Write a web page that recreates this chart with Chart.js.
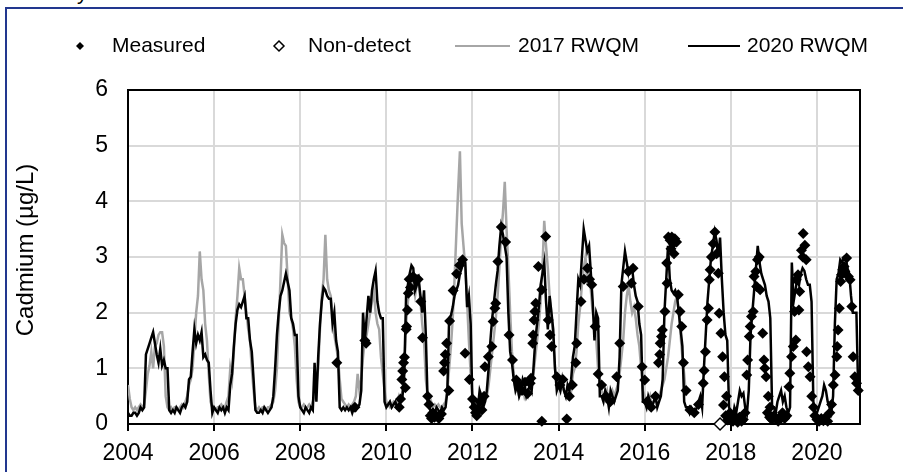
<!DOCTYPE html>
<html>
<head>
<meta charset="utf-8">
<script src="https://cdn.jsdelivr.net/npm/chart.js@4.4.0/dist/chart.umd.min.js"></script>
<style>
  html, body { margin: 0; padding: 0; background: #fff; overflow: hidden; }
  #wrap { position: relative; width: 903px; height: 472px; overflow: hidden; }
  #frame { position: absolute; left: 5px; top: 7px; width: 1000px; height: 1000px; border: 2px solid #22378f; }
  #cut { position: absolute; left: 77px; top: -18px; font: 21px/21px "Liberation Sans", Arial, sans-serif; color: #000; }
  canvas { position: absolute; left: 0; top: 0; }
</style>
</head>
<body>
<div id="wrap">
  <div id="frame"></div>
  <div id="cut">y</div>
  <canvas id="chart" width="903" height="472"></canvas>
</div>
<script>
// model output, half-monthly steps starting 2004.0 (one row per year)
const modelStart = 2004;
const stepsPerYear = 24;

const rwqm2017 = [
  0.7,0.45,0.3,0.25,0.3,0.25,0.3,0.35,0.3,0.35,0.6,0.9,1.05,1.3,1.0,1.4,1.45,1.6,1.65,1.65,1.4,0.5,0.3,0.25, // 2004
  0.3,0.25,0.3,0.3,0.25,0.3,0.35,0.3,0.4,0.5,0.7,0.8,1.0,1.5,2.0,2.3,3.1,2.6,2.4,1.8,1.5,0.9,0.4,0.3,         // 2005
  0.3,0.25,0.3,0.3,0.35,0.3,0.3,0.4,0.5,1.0,0.8,1.3,1.9,2.3,2.8,2.6,2.6,2.3,2.0,1.7,1.5,1.0,0.6,0.3,         // 2006
  0.25,0.3,0.25,0.3,0.3,0.25,0.3,0.3,0.35,0.4,0.6,1.0,1.8,2.6,3.4,3.25,3.2,2.6,2.0,1.9,1.7,1.4,0.8,0.4,      // 2007
  0.3,0.3,0.35,0.3,0.3,0.35,0.3,0.4,0.5,0.7,1.0,1.7,2.3,2.6,3.4,2.6,2.4,2.3,2.0,1.6,1.4,1.2,0.8,0.45,        // 2008
  0.4,0.35,0.3,0.35,0.3,0.35,0.4,0.5,0.9,0.6,0.8,1.2,1.5,1.6,1.8,2.0,2.2,2.4,2.0,1.8,1.7,1.2,0.9,0.6,        // 2009
  0.4,0.35,0.3,0.35,0.4,0.35,0.4,0.5,0.4,0.6,1.0,1.8,2.2,2.4,2.6,2.5,2.3,2.5,2.6,2.2,1.8,1.5,0.8,0.5,        // 2010
  0.5,0.4,0.3,0.35,0.3,0.35,0.3,0.3,0.35,0.4,0.6,1.0,1.4,1.9,2.6,3.4,4.2,4.9,3.6,3.2,2.8,2.2,1.5,0.9,        // 2011
  0.5,0.3,0.2,0.25,0.4,0.5,0.4,0.4,0.5,0.7,1.0,1.3,1.6,1.9,2.3,2.8,3.4,3.8,4.35,3.5,2.8,2.0,1.3,0.9,        // 2012
  0.7,0.6,0.5,0.6,0.7,0.5,0.6,0.5,0.6,0.7,0.9,1.2,1.5,1.8,2.2,2.8,3.65,3.2,2.8,2.3,2.0,1.5,1.0,0.7,         // 2013
  0.7,0.6,0.7,0.6,0.5,0.6,0.7,0.6,0.9,1.0,1.3,1.8,2.1,2.5,2.8,3.0,2.5,2.8,2.4,2.0,1.8,1.5,1.0,0.7,          // 2014
  0.6,0.5,0.5,0.6,0.4,0.5,0.6,0.5,0.6,0.7,0.9,1.2,1.5,2.0,2.3,2.5,2.2,2.0,2.1,1.9,1.6,1.4,1.0,0.6,          // 2015
  0.5,0.4,0.4,0.5,0.3,0.4,0.4,0.5,0.5,0.6,0.7,0.8,1.0,1.2,1.5,1.8,2.0,2.2,2.3,2.0,1.6,1.2,0.9,0.5           // 2016
];

const rwqm2020 = [
  0.2,0.15,0.15,0.2,0.2,0.15,0.2,0.3,0.25,0.3,1.25,1.35,1.45,1.55,1.65,1.45,1.25,1.1,1.35,1.05,1.15,1.0,1.0,0.25, // 2004
  0.2,0.25,0.2,0.3,0.25,0.2,0.3,0.35,0.3,0.4,0.8,0.85,1.3,1.7,1.45,1.6,1.5,1.65,1.2,1.25,1.15,1.1,0.6,0.2,        // 2005
  0.3,0.25,0.2,0.3,0.25,0.3,0.2,0.3,0.25,0.7,0.9,1.4,1.8,2.05,2.15,2.1,2.2,2.3,1.9,1.9,1.5,1.3,0.8,0.25,         // 2006
  0.2,0.2,0.25,0.2,0.3,0.25,0.2,0.25,0.3,0.5,1.0,1.6,2.0,2.3,2.4,2.55,2.7,2.55,2.4,1.9,1.8,1.6,1.6,0.5,          // 2007
  0.3,0.25,0.2,0.3,0.25,0.2,0.3,0.25,1.1,0.4,1.2,1.8,2.2,2.45,2.4,2.3,2.25,2.25,1.8,2.0,1.5,1.3,0.3,0.25,        // 2008
  0.3,0.25,0.3,0.25,0.3,0.2,0.3,0.25,0.3,0.35,0.6,2.0,1.5,1.9,2.3,2.0,2.4,2.6,2.75,2.2,2.0,1.9,1.9,0.4,          // 2009
  0.3,0.35,0.4,0.3,0.35,0.4,0.3,0.35,0.4,0.5,0.9,2.3,2.5,2.7,2.85,2.8,2.4,2.5,2.6,2.3,2.0,2.4,1.6,0.4,           // 2010
  0.3,0.2,0.25,0.2,0.3,0.25,0.2,0.3,0.25,0.3,0.6,1.9,1.95,2.1,2.3,2.4,2.5,2.7,2.8,2.95,2.9,2.1,2.3,1.8,          // 2011
  0.3,0.2,0.15,0.3,0.6,0.5,0.3,0.4,0.6,1.0,1.5,1.9,2.2,2.5,2.75,3.2,3.55,3.4,3.2,3.0,2.0,1.3,1.1,0.8,           // 2012
  0.6,0.7,0.5,0.6,0.8,0.7,0.5,0.6,0.7,0.6,1.0,1.5,1.8,2.1,2.5,2.7,2.9,2.2,1.7,2.3,2.0,1.7,1.0,0.6,              // 2013
  0.7,0.6,0.8,0.6,0.5,0.7,0.6,0.8,1.2,1.4,2.0,2.6,2.5,3.0,3.5,3.3,3.1,3.2,2.7,2.2,1.5,2.0,1.9,0.5,              // 2014
  0.5,0.4,0.6,0.5,0.3,0.6,0.5,0.4,0.5,0.6,1.2,2.5,2.8,3.1,2.9,2.7,2.8,2.8,2.5,2.3,2.2,1.8,1.6,0.4,              // 2015
  0.4,0.3,0.5,0.4,0.3,0.4,0.5,0.3,0.4,0.5,0.8,2.0,2.6,3.2,2.6,2.4,2.35,2.4,2.3,2.0,1.7,1.4,0.4,0.3,             // 2016
  0.3,0.2,0.3,0.25,0.2,0.3,0.4,0.5,0.3,1.0,1.6,2.2,2.6,3.0,3.2,3.45,3.3,3.0,3.35,2.6,2.0,1.6,1.5,0.3,           // 2017
  0.2,0.1,0.3,0.2,0.4,0.6,0.5,0.55,0.3,0.2,0.6,1.6,2.0,2.4,2.8,3.2,2.9,2.7,2.6,2.5,2.3,2.2,1.9,0.3,             // 2018
  0.3,0.2,0.4,0.5,0.6,0.4,0.5,0.3,0.2,0.3,2.9,2.2,2.4,2.6,2.5,2.7,2.8,2.75,2.6,2.5,2.5,2.2,0.4,0.2,             // 2019
  0.2,0.3,0.4,0.5,0.7,0.6,0.4,0.3,0.2,0.5,1.8,2.6,2.7,2.95,2.9,3.0,3.0,2.8,2.7,2.3,2.0,2.0,2.0,0.6              // 2020
];

// measured samples [decimal year, µg/L]
const measured = [
  [2008.85,1.1],[2009.27,0.3],[2009.50,1.5],[2009.53,1.45],
  [2010.30,0.3],[2010.33,0.45],[2010.36,0.8],[2010.38,0.95],[2010.40,1.1],[2010.42,1.2],[2010.44,0.65],[2010.46,1.7],
  [2010.47,1.75],[2010.49,2.05],[2010.51,2.35],[2010.53,2.6],[2010.56,2.45],[2010.62,2.65],[2010.68,2.6],[2010.74,2.6],
  [2010.80,2.2],[2010.84,1.55],[2010.96,0.5],[2010.99,0.35],
  [2011.02,0.15],[2011.05,0.1],[2011.08,0.2],[2011.12,0.12],[2011.16,0.15],[2011.22,0.1],[2011.28,0.18],[2011.33,0.95],
  [2011.35,1.1],[2011.37,1.25],[2011.40,1.45],[2011.45,0.6],[2011.47,1.85],[2011.55,2.4],[2011.63,2.7],[2011.70,2.85],
  [2011.77,2.95],[2011.83,1.27],[2011.93,0.8],
  [2012.00,0.45],[2012.04,0.3],[2012.07,0.2],[2012.10,0.15],[2012.13,0.25],[2012.17,0.4],[2012.22,0.25],[2012.27,0.5],
  [2012.29,1.03],[2012.37,1.21],[2012.45,1.39],[2012.48,1.84],[2012.52,2.08],[2012.54,2.17],[2012.59,2.92],[2012.67,3.54],
  [2012.77,3.27],[2012.85,1.6],[2012.93,1.15],
  [2013.02,0.79],[2013.08,0.7],[2013.15,0.6],[2013.22,0.75],[2013.28,0.55],[2013.34,0.73],[2013.36,0.82],[2013.40,1.45],
  [2013.41,1.6],[2013.43,1.87],[2013.45,2.02],[2013.47,2.17],[2013.53,2.83],[2013.61,2.41],[2013.61,0.05],[2013.70,3.37],
  [2013.76,1.87],[2013.80,1.6],[2013.84,1.39],[2013.96,0.85],
  [2014.03,0.7],[2014.10,0.8],[2014.19,0.09],[2014.25,0.5],[2014.32,0.7],[2014.40,1.1],[2014.42,1.45],[2014.52,2.2],
  [2014.59,2.6],[2014.67,2.8],[2014.72,2.6],[2014.77,2.5],[2014.85,1.75],[2014.92,0.9],
  [2015.00,0.7],[2015.10,0.5],[2015.20,0.4],[2015.35,0.85],[2015.42,1.45],[2015.50,2.47],[2015.62,2.74],[2015.69,2.53],
  [2015.73,2.8],[2015.85,2.11],[2015.94,1.03],
  [2016.00,0.79],[2016.05,0.4],[2016.15,0.3],[2016.25,0.5],[2016.32,1.1],[2016.35,1.25],[2016.36,1.45],[2016.39,1.57],
  [2016.41,1.69],[2016.47,2.02],[2016.51,2.89],[2016.52,2.53],[2016.55,3.36],[2016.59,3.3],[2016.61,3.15],[2016.63,3.36],
  [2016.66,3.24],[2016.68,3.06],[2016.70,3.33],[2016.74,3.27],[2016.78,2.32],[2016.82,2.02],[2016.86,1.75],[2016.90,1.1],
  [2016.96,0.6],
  [2017.05,0.25],[2017.15,0.2],[2017.25,0.35],[2017.36,0.73],[2017.38,0.96],[2017.41,1.3],[2017.45,1.87],[2017.48,2.08],
  [2017.50,2.59],[2017.52,2.77],[2017.55,3.0],[2017.59,3.24],[2017.63,3.45],[2017.67,3.06],[2017.71,2.71],[2017.73,1.99],
  [2017.77,1.63],[2017.81,1.21],[2017.83,0.34],[2017.85,0.85],[2017.88,0.15],[2017.90,0.5],[2017.93,0.07],[2017.98,0.2],
  [2018.02,0.1],[2018.05,0.05],[2018.08,0.15],[2018.12,0.1],[2018.16,0.03],[2018.20,0.12],[2018.25,0.05],[2018.29,0.08],
  [2018.33,0.2],[2018.37,0.88],[2018.39,1.15],[2018.43,1.57],[2018.45,1.75],[2018.48,1.93],[2018.52,2.02],[2018.54,2.65],
  [2018.58,2.74],[2018.60,2.47],[2018.62,2.95],[2018.66,3.0],[2018.68,2.41],[2018.74,1.63],[2018.77,1.15],[2018.79,1.0],
  [2018.82,0.85],[2018.85,0.2],[2018.87,0.5],[2018.90,0.12],[2018.91,0.3],[2018.95,0.08],
  [2019.00,0.15],[2019.05,0.1],[2019.10,0.05],[2019.15,0.12],[2019.20,0.2],[2019.25,0.1],[2019.30,0.15],[2019.35,0.67],
  [2019.37,0.91],[2019.41,1.21],[2019.45,1.39],[2019.48,2.02],[2019.51,1.51],[2019.52,2.59],[2019.56,2.68],[2019.58,2.05],
  [2019.60,2.38],[2019.64,3.12],[2019.67,3.0],[2019.68,3.42],[2019.72,3.21],[2019.75,2.95],[2019.76,1.3],[2019.80,1.03],
  [2019.84,0.85],[2019.88,0.5],[2019.92,0.3],[2019.95,0.15],
  [2020.00,0.08],[2020.05,0.05],[2020.10,0.1],[2020.15,0.06],[2020.20,0.12],[2020.25,0.05],[2020.30,0.2],[2020.34,0.35],
  [2020.38,0.7],[2020.42,0.88],[2020.46,1.21],[2020.47,1.39],[2020.49,1.69],[2020.52,2.08],[2020.55,2.56],[2020.57,2.68],
  [2020.60,2.77],[2020.63,2.83],[2020.65,2.74],[2020.69,2.98],[2020.73,2.65],[2020.77,2.59],[2020.81,2.11],[2020.84,1.21],
  [2020.88,0.85],[2020.92,0.73],[2020.96,0.6]
];

const nonDetect = [[2017.75, 0]];

const xTicks = [2004, 2006, 2008, 2010, 2012, 2014, 2016, 2018, 2020];
const legendLabels = ['Measured', 'Non-detect', '2017 RWQM', '2020 RWQM'];
const yTitle = 'Cadmium (µg/L)';

const FONT = '"Liberation Sans", Arial, sans-serif';

function seriesPoints(values) {
  return values.map((v, i) => ({ x: modelStart + i / stepsPerYear, y: v }));
}
function pairPoints(list) {
  return list.map(p => ({ x: p[0], y: p[1] }));
}

// grid from the scales' own ticks, tick marks, black frame, axis title
const plotFrame = {
  id: 'plotFrame',
  beforeDatasetsDraw(chart) {
    const a = chart.chartArea, c = chart.ctx;
    const xs = chart.scales.x, ys = chart.scales.y;
    c.save();
    c.strokeStyle = '#d9d9d9';
    c.lineWidth = 2;
    c.beginPath();
    xs.ticks.forEach(t => {
      const px = Math.round(xs.getPixelForValue(t.value));
      c.moveTo(px, a.top); c.lineTo(px, a.bottom);
    });
    ys.ticks.forEach(t => {
      const py = Math.round(ys.getPixelForValue(t.value));
      c.moveTo(a.left, py); c.lineTo(a.right, py);
    });
    c.stroke();

    c.strokeStyle = '#000';
    c.beginPath();
    xs.ticks.forEach(t => {
      const px = Math.round(xs.getPixelForValue(t.value));
      c.moveTo(px, a.bottom); c.lineTo(px, a.bottom + 7);
    });
    c.stroke();
    c.strokeRect(a.left, a.top, a.right - a.left, a.bottom - a.top);

    c.translate(26, 250);
    c.rotate(-Math.PI / 2);
    c.font = '24px ' + FONT;
    c.fillStyle = '#000';
    c.textAlign = 'center';
    c.textBaseline = 'middle';
    c.fillText(yTitle, 0, 0);
    c.restore();
  }
};

// legend in one row across the top, spaced like the original
const topLegend = {
  id: 'topLegend',
  afterDraw(chart) {
    const c = chart.ctx, y = 46;
    c.save();
    c.font = '21px ' + FONT;
    c.fillStyle = '#000';
    c.textBaseline = 'middle';

    c.beginPath();
    c.moveTo(80, y - 4); c.lineTo(84, y); c.lineTo(80, y + 4); c.lineTo(76, y); c.closePath();
    c.fill();
    c.fillText(legendLabels[0], 112, y);

    c.beginPath();
    c.moveTo(279, y - 5); c.lineTo(284, y); c.lineTo(279, y + 5); c.lineTo(274, y); c.closePath();
    c.fillStyle = '#fff'; c.fill();
    c.strokeStyle = '#000'; c.lineWidth = 1.5; c.stroke();
    c.fillStyle = '#000';
    c.fillText(legendLabels[1], 308, y);

    c.lineWidth = 2;
    c.strokeStyle = '#a6a6a6';
    c.beginPath(); c.moveTo(455, y); c.lineTo(510, y); c.stroke();
    c.fillText(legendLabels[2], 518, y);

    c.strokeStyle = '#000';
    c.beginPath(); c.moveTo(688, y); c.lineTo(740, y); c.stroke();
    c.fillText(legendLabels[3], 747, y);
    c.restore();
  }
};

new Chart(document.getElementById('chart'), {
  type: 'scatter',
  data: {
    datasets: [
      {
        label: legendLabels[1], data: pairPoints(nonDetect), order: 0,
        pointStyle: 'rectRot', pointRadius: 6, backgroundColor: '#fff', borderColor: '#000', borderWidth: 1.5, clip: false
      },
      {
        label: legendLabels[0], data: pairPoints(measured), order: 1,
        pointStyle: 'rectRot', pointRadius: 5.5, backgroundColor: '#000', borderColor: '#000', borderWidth: 0, clip: false
      },
      {
        label: legendLabels[3], data: seriesPoints(rwqm2020), order: 2, showLine: true,
        borderColor: '#000', borderWidth: 2.5, pointRadius: 0, tension: 0
      },
      {
        label: legendLabels[2], data: seriesPoints(rwqm2017), order: 3, showLine: true,
        borderColor: '#a6a6a6', borderWidth: 2.5, pointRadius: 0, tension: 0
      }
    ]
  },
  options: {
    responsive: false,
    animation: false,
    layout: { padding: { left: 8, top: 90, right: 43, bottom: 0 } },
    plugins: { legend: { display: false }, tooltip: { enabled: false } },
    scales: {
      x: {
        type: 'linear', min: 2004, max: 2021,
        afterBuildTicks: s => { s.ticks = xTicks.map(v => ({ value: v })); },
        afterFit: s => { s.height = 48; },
        ticks: { color: '#000', font: { size: 23, family: FONT }, padding: 10, maxRotation: 0, autoSkip: false, callback: v => String(v) },
        grid: { color: '#d9d9d9', lineWidth: 2, tickLength: 6, tickColor: '#000', tickWidth: 2 },
        border: { color: '#000', width: 2 }
      },
      y: {
        min: 0, max: 6,
        afterFit: s => { s.width = 120; },
        ticks: { stepSize: 1, color: '#000', font: { size: 23, family: FONT }, padding: 20 },
        grid: { color: '#d9d9d9', lineWidth: 2, drawTicks: false },
        border: { color: '#000', width: 2 }
      }
    }
  },
  plugins: [plotFrame, topLegend]
});
</script>
</body>
</html>
